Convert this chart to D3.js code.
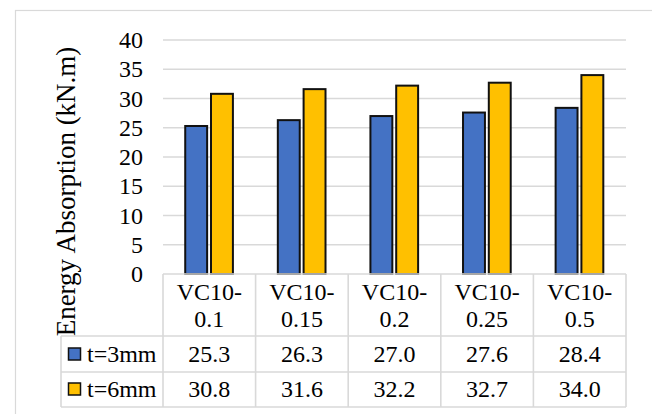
<!DOCTYPE html>
<html><head><meta charset="utf-8">
<script src="https://cdn.jsdelivr.net/npm/d3@7"></script>
<style>body{margin:0;background:#fff}svg{display:block}</style>
</head><body><svg id="c" width="652" height="414"></svg>
<script>
const categories = [["VC10-","0.1"],["VC10-","0.15"],["VC10-","0.2"],["VC10-","0.25"],["VC10-","0.5"]];
const catKeys = ["VC10-0.1","VC10-0.15","VC10-0.2","VC10-0.25","VC10-0.5"];
const seriesNames = ["t=3mm","t=6mm"];
const t3 = [25.3,26.3,27.0,27.6,28.4];
const t6 = [30.8,31.6,32.2,32.7,34.0];
const labels3 = ["25.3","26.3","27.0","27.6","28.4"];
const labels6 = ["30.8","31.6","32.2","32.7","34.0"];
const yTicks = [0,5,10,15,20,25,30,35,40];
const colors = ["#4472C4","#FFC000"];
const yTitle = "Energy Absorption (kN.m)";

(function(){
const font = "'Liberation Serif','Times New Roman',serif";
const svg = d3.select("#c");
const gridC = "#d9d9d9";

// outer frame
svg.append("rect").attr("x",15.5).attr("y",10.5).attr("width",700).attr("height",500)
  .attr("fill","none").attr("stroke",gridC).attr("stroke-width",1.2);

const pL = 163, pR = 626, pT = 40, pB = 274;
const y = d3.scaleLinear().domain([0,40]).range([pB, pT]);
const x = d3.scaleBand().domain(catKeys).range([pL, pR]).padding(0);
const bw = x.bandwidth();
const x1 = d3.scaleBand().domain(seriesNames).range([bw*0.24, bw*0.755]).paddingInner(0.15).paddingOuter(0);

// gridlines
svg.append("g").selectAll("line").data(yTicks.filter(d=>d>0)).join("line")
  .attr("x1",pL).attr("x2",pR).attr("y1",d=>y(d)).attr("y2",d=>y(d))
  .attr("stroke",gridC).attr("stroke-width",1.5);

// y axis
const ax = svg.append("g").attr("transform",`translate(${pL},0)`)
  .call(d3.axisLeft(y).tickValues(yTicks).tickSize(0).tickPadding(20));
ax.select(".domain").remove();
ax.selectAll("text").attr("font-family",font).attr("font-size",24).attr("fill","#000");

// bars
const series = [t3, t6];
series.forEach((vals, si) => {
  svg.append("g").selectAll("rect").data(vals).join("rect")
    .attr("x",(d,i)=>x(catKeys[i]) + x1(seriesNames[si]))
    .attr("width",x1.bandwidth())
    .attr("y",d=>y(d))
    .attr("height",d=>y(0)-y(d))
    .attr("fill",colors[si]).attr("stroke","#111").attr("stroke-width",2);
});

// y title
svg.append("text").attr("transform","translate(75,191.5) rotate(-90)")
  .attr("text-anchor","middle").attr("font-family",font).attr("font-size",27)
  .attr("fill","#000").text(yTitle);

// data table
const rowTop = [274, 336, 372, 407];
const legLeft = 61;
const tg = svg.append("g").attr("stroke",gridC).attr("stroke-width",1.6);
tg.append("line").attr("x1",pL).attr("x2",pR).attr("y1",rowTop[0]).attr("y2",rowTop[0]);
[1,2,3].forEach(r => tg.append("line").attr("x1",legLeft).attr("x2",pR).attr("y1",rowTop[r]).attr("y2",rowTop[r]));
tg.append("line").attr("x1",legLeft).attr("x2",legLeft).attr("y1",rowTop[1]).attr("y2",rowTop[3]);
const colEdges = catKeys.map(k=>x(k)).concat([pR]);
colEdges.forEach(cx => tg.append("line").attr("x1",cx).attr("x2",cx).attr("y1",rowTop[0]).attr("y2",rowTop[3]));

// header labels
catKeys.forEach((k,i) => {
  const cx = x(k) + bw/2;
  svg.append("text").attr("x",cx).attr("y",300).attr("text-anchor","middle")
    .attr("font-family",font).attr("font-size",24).text(categories[i][0]);
  svg.append("text").attr("x",cx).attr("y",327).attr("text-anchor","middle")
    .attr("font-family",font).attr("font-size",24).text(categories[i][1]);
});
// values
[labels3, labels6].forEach((labs, r) => {
  const base = r===0 ? 362 : 397;
  labs.forEach((t,i) => {
    svg.append("text").attr("x",x(catKeys[i]) + bw/2).attr("y",base).attr("text-anchor","middle")
      .attr("font-family",font).attr("font-size",24).text(t);
  });
  const sqY = r===0 ? 348 : 383;
  svg.append("rect").attr("x",68.5).attr("y",sqY).attr("width",12).attr("height",12)
    .attr("fill",colors[r]).attr("stroke","#111").attr("stroke-width",1.5);
  svg.append("text").attr("x",87).attr("y",base).attr("font-family",font).attr("font-size",24)
    .text(seriesNames[r]);
});
})();
</script></body></html>
